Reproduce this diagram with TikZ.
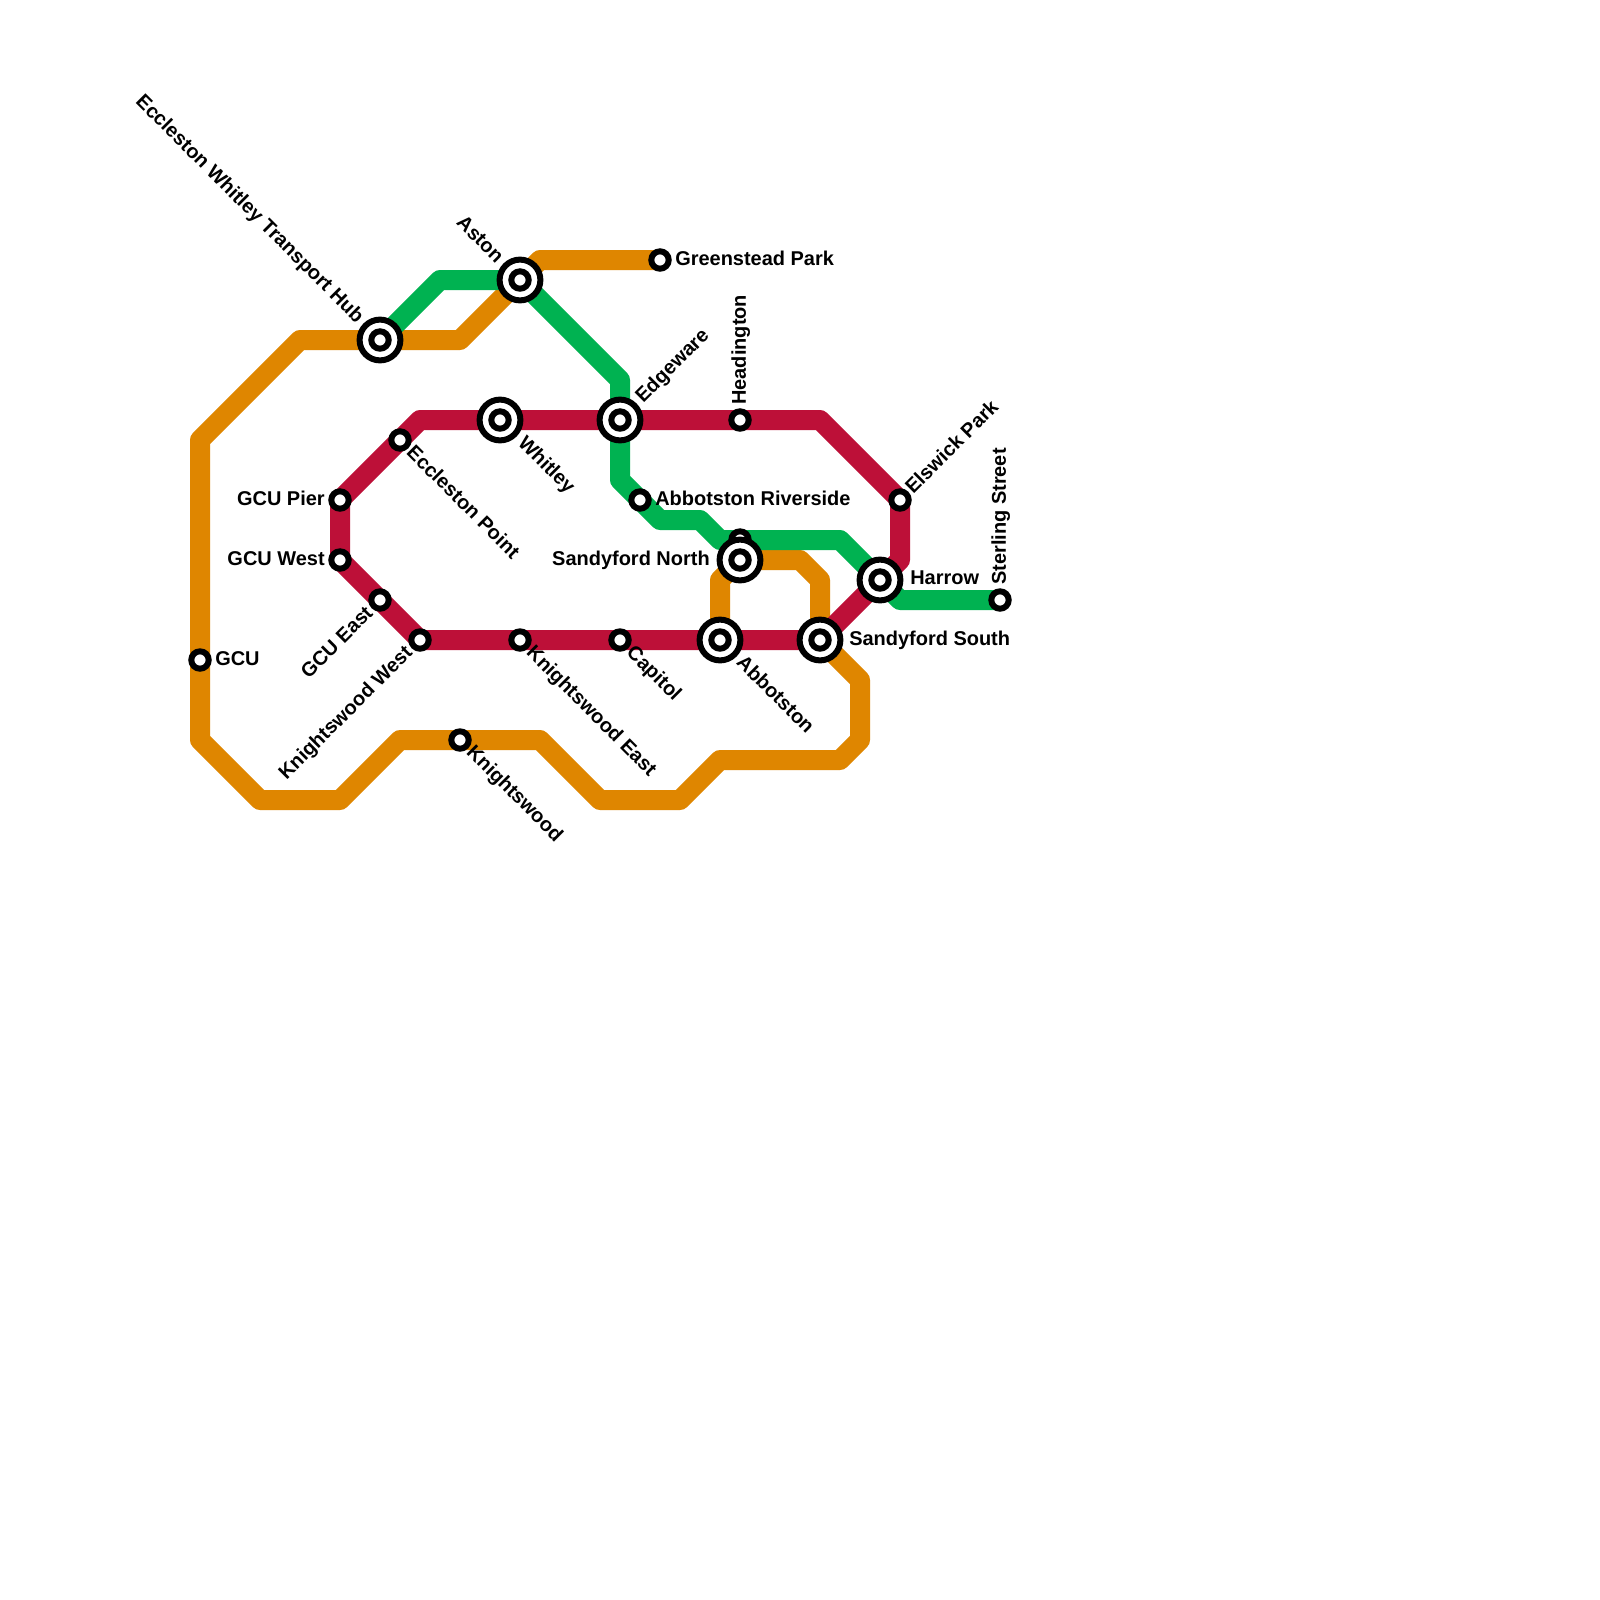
\documentclass[tikz,border=0pt]{standalone}
\usepackage{fontspec}
\setmainfont{Liberation Sans}
\usetikzlibrary{backgrounds}
\definecolor{MetroOrange}{HTML}{DF8600}
\definecolor{MetroGreen}{HTML}{00B251}
\definecolor{MetroRed}{HTML}{BD1038}

\begin{document}
\begin{tikzpicture}[
    x=0.5cm,y=-0.5cm,
    stop/.style={
      circle,
      draw=black,
      fill=white,
      line width=0.15cm,
      minimum size=0.435cm,
      inner sep=0pt,
      outer sep=0pt
    },
    hub/.style={
      stop,
      minimum size=1.02cm,
      path picture={\draw[line width=0.15cm] (path picture bounding box.center) circle (0.2175cm);}
    },
    lbl/.style={
      font=\fontsize{14.2}{16}\selectfont\bfseries,
      text height=1.02em,
      text depth=0.2em,
      inner sep=0pt
    },
    route/.style={
      line width=0.5cm,
      line join=round
    }]

    \useasboundingbox (0,0) rectangle (80,80);

    % Stops (the one at Sandyford North sits under the hub)
    \node[stop] (gcu) at (10,33) {};
    \node[stop] (gcupier) at (17,25) {};
    \node[stop] (gcuwest) at (17,28) {};
    \node[stop] (gcueast) at (19,30) {};
    \node[stop] (ecclestonpoint) at (20,22) {};
    \node[stop] (kwwest) at (21,32) {};
    \node[stop] (knightswood) at (23,37) {};
    \node[stop] (kweast) at (26,32) {};
    \node[stop] (capitol) at (31,32) {};
    \node[stop] (riverside) at (32,25) {};
    \node[stop] (greenstead) at (33,13) {};
    \node[stop] (headington) at (37,21) {};
    \node[stop] (sandyfordstop) at (37,27) {};
    \node[stop] (elswick) at (45,25) {};
    \node[stop] (sterling) at (50,30) {};

    % Interchanges
    \node[hub] (transporthub) at (19,17) {};
    \node[hub] (aston) at (26,14) {};
    \node[hub] (whitley) at (25,21) {};
    \node[hub] (edgeware) at (31,21) {};
    \node[hub] (sandyfordn) at (37,28) {};
    \node[hub] (abbotston) at (36,32) {};
    \node[hub] (sandyfords) at (41,32) {};
    \node[hub] (harrow) at (44,29) {};

    % Bends of the routes
    \coordinate (o1) at (27,13);
    \coordinate (o2) at (23,17);
    \coordinate (o3) at (15,17);
    \coordinate (o4) at (10,22);
    \coordinate (o5) at (10,37);
    \coordinate (o6) at (13,40);
    \coordinate (o7) at (17,40);
    \coordinate (o8) at (20,37);
    \coordinate (o9) at (27,37);
    \coordinate (o10) at (30,40);
    \coordinate (o11) at (34,40);
    \coordinate (o12) at (36,38);
    \coordinate (o13) at (42,38);
    \coordinate (o14) at (43,37);
    \coordinate (o15) at (43,34);
    \coordinate (o16) at (41,29);
    \coordinate (o17) at (40,28);
    \coordinate (o18) at (36,29);
    \coordinate (g1) at (22,14);
    \coordinate (g2) at (31,19);
    \coordinate (g3) at (31,24);
    \coordinate (g4) at (33,26);
    \coordinate (g5) at (35,26);
    \coordinate (g6) at (36,27);
    \coordinate (g7) at (42,27);
    \coordinate (g8) at (45,30);
    \coordinate (r1) at (21,21);
    \coordinate (r2) at (41,21);
    \coordinate (r3) at (45,28);

    % Routes go under the stations
    \begin{scope}[on background layer]
      \fill[white] (0,0) rectangle (80,80);
      \draw[route,MetroOrange] (greenstead.center) -- (o1) -- (aston.center) -- (o2) -- (transporthub.center) -- (o3) -- (o4) -- (gcu.center) -- (o5) -- (o6) -- (o7) -- (o8) -- (knightswood.center) -- (o9) -- (o10) -- (o11) -- (o12) -- (o13) -- (o14) -- (o15) -- (sandyfords.center) -- (o16) -- (o17) -- (sandyfordn.center) -- (o18) -- (abbotston.center);
      \draw[route,MetroGreen] (transporthub.center) -- (g1) -- (aston.center) -- (g2) -- (edgeware.center) -- (g3) -- (riverside.center) -- (g4) -- (g5) -- (g6) -- (sandyfordstop.center) -- (g7) -- (harrow.center) -- (g8) -- (sterling.center);
      \draw[route,MetroRed] (r1) -- (whitley.center) -- (edgeware.center) -- (headington.center) -- (r2) -- (elswick.center) -- (r3) -- (harrow.center) -- (sandyfords.center) -- (abbotston.center) -- (capitol.center) -- (kweast.center) -- (kwwest.center) -- (gcueast.center) -- (gcuwest.center) -- (gcupier.center) -- (ecclestonpoint.center) -- cycle;
    \end{scope}

    % Station names
    \node[lbl,anchor=east,rotate=-45] (tHub) at (18.02,16) {Eccleston Whitley Transport Hub};
    \node[lbl,anchor=east,rotate=-45] (tAston) at (25,13) {Aston};
    \node[lbl,anchor=west] (tGreenstead) at (33.75,12.98) {Greenstead Park};
    \node[lbl,anchor=west,rotate=45] (tEdgeware) at (31.95,19.98) {Edgeware};
    \node[lbl,anchor=west,rotate=90] (tHeadington) at (37,20.25) {Headington};
    \node[lbl,anchor=west,rotate=-45] (tWhitley) at (26.05,22) {Whitley};
    \node[lbl,anchor=west,rotate=-45] (tEccleston) at (20.48,22.48) {Eccleston Point};
    \node[lbl,anchor=east] (tPier) at (16.25,24.99) {GCU Pier};
    \node[lbl,anchor=east] (tWest) at (16.25,27.99) {GCU West};
    \node[lbl,anchor=east,rotate=45] (tEast) at (18.5,30.5) {GCU East};
    \node[lbl,anchor=east,rotate=45] (tKwWest) at (20.47,32.48) {Knightswood West};
    \node[lbl,anchor=west,rotate=-45] (tKwEast) at (26.48,32.48) {Knightswood East};
    \node[lbl,anchor=west,rotate=-45] (tCapitol) at (31.48,32.48) {Capitol};
    \node[lbl,anchor=west,rotate=-45] (tAbbotston) at (36.98,32.98) {Abbotston};
    \node[lbl,anchor=west,rotate=-45] (tKnightswood) at (23.48,37.45) {Knightswood};
    \node[lbl,anchor=west] (tGcu) at (10.75,32.98) {GCU};
    \node[lbl,anchor=west] (tRiverside) at (32.75,24.98) {Abbotston Riverside};
    \node[lbl,anchor=east] (tSandyfordN) at (35.5,27.98) {Sandyford North};
    \node[lbl,anchor=west,rotate=45] (tElswick) at (45.45,24.55) {Elswick Park};
    \node[lbl,anchor=west] (tHarrow) at (45.5,28.93) {Harrow};
    \node[lbl,anchor=west] (tSandyfordS) at (42.45,31.98) {Sandyford South};
    \node[lbl,anchor=west,rotate=90] (tSterling) at (50,29.25) {Sterling Street};
\end{tikzpicture}
\end{document}
